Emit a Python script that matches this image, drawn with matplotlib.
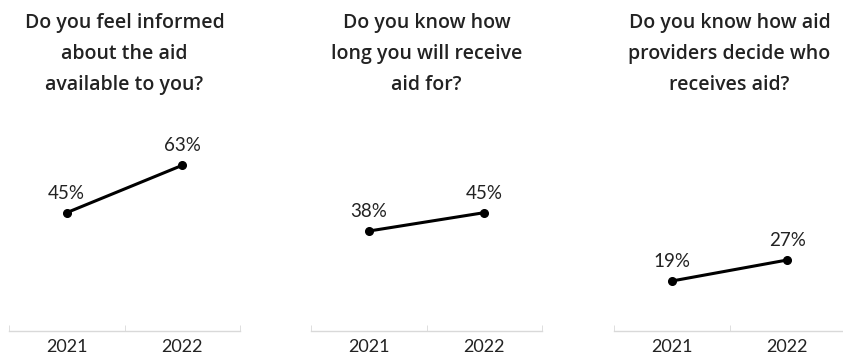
import matplotlib.pyplot as plt

plt.rcParams['font.family'] = ['Lato', 'DejaVu Sans']

years = ["2021", "2022"]
questions = [
    "Do you feel informed\nabout the aid\navailable to you?",
    "Do you know how\nlong you will receive\naid for?",
    "Do you know how aid\nproviders decide who\nreceives aid?",
]
values = [
    [45, 63],
    [38, 45],
    [19, 27],
]

fig = plt.figure(figsize=(8.43, 3.56), dpi=100)
lefts = [9, 311, 614]

for i in range(3):
    ax = fig.add_axes([lefts[i] / 843, 25 / 356, 231 / 843, 263 / 356])
    x = range(len(years))
    ax.plot(x, values[i], color="black", lw=2.2, marker="o", ms=5.5, clip_on=False)
    for xi, v in zip(x, values[i]):
        ax.annotate("{}%".format(v), (xi, v), xytext=(0, 8), textcoords="offset points",
                    ha="center", va="bottom", fontsize=13.5, color="#222222")
    ax.set_xlim(-0.5, 1.5)
    ax.set_ylim(0, 100)
    ax.set_xticks(list(x))
    ax.set_xticklabels(years, fontsize=13, color="#222222")
    ax.set_xticks([-0.5, 0.5, 1.5], minor=True)
    ax.tick_params(axis="x", which="major", length=0, pad=6)
    ax.tick_params(axis="x", which="minor", length=4, direction="in", color="#d9d9d9")
    ax.set_yticks([])
    for s in ["top", "right", "left"]:
        ax.spines[s].set_visible(False)
    ax.spines["bottom"].set_color("#d9d9d9")
    ax.spines["bottom"].set_linewidth(1)
    cx = (lefts[i] + 115.5) / 843
    fig.text(cx, 1 - 13 / 356, questions[i], ha="center", va="top", fontsize=14,
             family=["Open Sans", "DejaVu Sans"], fontweight="semibold",
             color="#222222", linespacing=1.72)

plt.savefig("out.png", dpi=100)
